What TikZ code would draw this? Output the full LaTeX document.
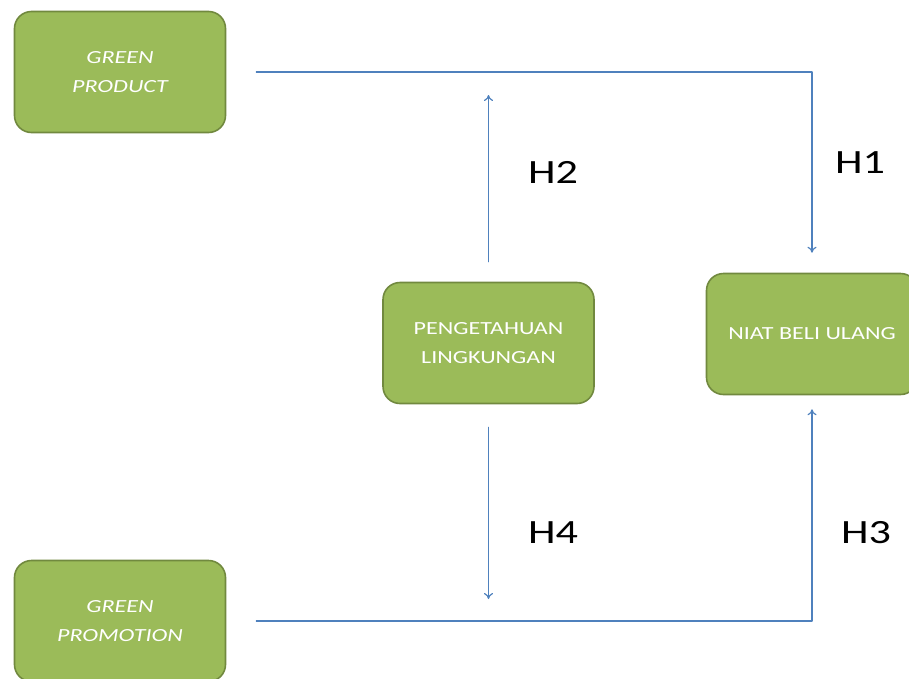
\documentclass[tikz,border=0pt]{standalone}
\usepackage{fontspec}
\setmainfont{Carlito}[FakeStretch=1.3]
\usetikzlibrary{arrows.meta}
\definecolor{boxgreen}{HTML}{9BBB59}
\definecolor{boxedge}{HTML}{71893F}
\definecolor{linkblue}{HTML}{4F81BD}

\begin{document}
\begin{tikzpicture}[x=1pt,y=-1pt,line cap=round,line join=round,
	box/.style={draw=boxedge,line width=1.6pt,fill=boxgreen,rounded corners=17pt,minimum width=211pt,minimum height=121pt,align=center,text=white,font=\fontsize{18.5}{29.5}\selectfont},
	gbox/.style={box,font=\fontsize{18.5}{29.5}\selectfont\itshape},
	link/.style={draw=linkblue,line width=1.2pt,-{To[length=6pt,width=9pt]}},
	hyp/.style={font=\fontsize{34}{40}\selectfont}]
	\useasboundingbox (0,0) rectangle (909,678);
	\clip (0,0) rectangle (909,678);
	% boxes
	\node[gbox] (gprod) at (120,72) {GREEN\\PRODUCT};
	\node[gbox] (gprom) at (120,621) {GREEN\\PROMOTION};
	\node[box] (peng) at (488.5,343) {PENGETAHUAN\\LINGKUNGAN};
	\node[box] (niat) at (812,334) {NIAT BELI ULANG};
	% free ends
	\coordinate (h2end) at (488.5,95);
	\coordinate (h4end) at (488.5,599);
	% connectors
	\draw[link] ([xshift=30]gprod.east) -| ([yshift=20]niat.north);
	\draw[link] ([xshift=30]gprom.east) -| ([yshift=-14]niat.south);
	\draw[link] ([yshift=20]peng.north) -- (h2end);
	\draw[link] ([yshift=-23]peng.south) -- (h4end);
	% labels
	\node[hyp] (h1) at (860,163) {H1};
	\node[hyp] (h2) at (553,172) {H2};
	\node[hyp] (h3) at (866,533) {H3};
	\node[hyp] (h4) at (553,533) {H4};
\end{tikzpicture}
\end{document}
